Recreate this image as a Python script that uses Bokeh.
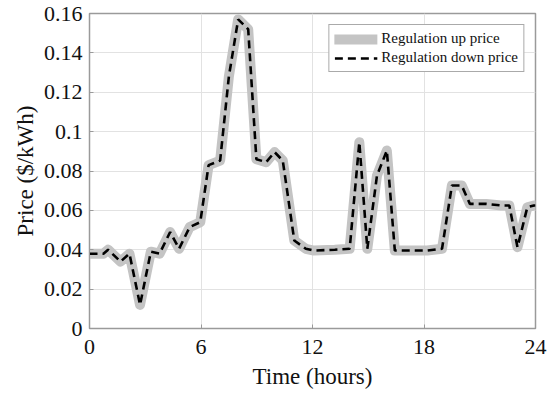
from bokeh.plotting import figure
from bokeh.models import Range1d, FixedTicker, Legend, LegendItem, ColumnDataSource
from bokeh.embed import file_html
from bokeh.resources import INLINE

# ---- data ----
time_h = [0, 0.75, 1.0, 1.67, 2.15, 2.72, 3.3, 3.77, 4.34, 4.82, 5.39, 5.96,
          6.41, 7.03, 7.5, 8.0, 8.54, 8.98, 9.51, 9.96, 10.4, 11.02, 11.64,
          12.08, 13.2, 14.0, 14.52, 14.95, 15.47, 16.0, 16.43, 18.17, 18.97,
          19.5, 20.03, 20.47, 21.35, 22.15, 22.59, 23.03, 23.56, 23.91, 24]
reg_up_price = [0.038, 0.038, 0.040, 0.034, 0.038, 0.012, 0.039, 0.038, 0.049,
                0.0405, 0.0515, 0.054, 0.083, 0.0853, 0.128, 0.157, 0.152,
                0.086, 0.0845, 0.0896, 0.0853, 0.0447, 0.0405, 0.0396, 0.0400,
                0.0405, 0.0946, 0.0405, 0.0777, 0.0904, 0.0396, 0.0396, 0.0405,
                0.0726, 0.0726, 0.0633, 0.0633, 0.0625, 0.0625, 0.0413, 0.0616,
                0.0625, 0.0625]
reg_down_price = list(reg_up_price)

x_ticks = [0, 6, 12, 18, 24]
y_ticks = [0, 0.02, 0.04, 0.06, 0.08, 0.1, 0.12, 0.14, 0.16]
y_tick_labels = ["0", "0.02", "0.04", "0.06", "0.08", "0.1", "0.12", "0.14", "0.16"]

FONT = "Liberation Serif"

p = figure(width=554, height=394, x_range=Range1d(0, 24), y_range=Range1d(0, 0.16),
           output_backend="svg", toolbar_location=None,
           min_border_left=89, min_border_right=19, min_border_top=13,
           min_border_bottom=66)

src = ColumnDataSource(dict(t=time_h, up=reg_up_price, down=reg_down_price))
up_line = p.line("t", "up", source=src, line_color="#c4c4c4", line_width=10,
                 line_join="round", line_cap="round")
down_line = p.line("t", "down", source=src, line_color="black", line_width=2.6,
                   line_dash="8 5")

p.xaxis.ticker = FixedTicker(ticks=x_ticks)
p.yaxis.ticker = FixedTicker(ticks=y_ticks)
p.yaxis.major_label_overrides = dict(zip(y_ticks, y_tick_labels))

for ax in (p.xaxis[0], p.yaxis[0]):
    ax.major_label_text_font = FONT
    ax.major_label_text_font_size = "22px"
    ax.major_label_text_color = "#111111"
    ax.axis_label_text_font = FONT
    ax.axis_label_text_font_size = "23px"
    ax.axis_label_text_font_style = "normal"
    ax.axis_label_text_color = "#111111"
    ax.major_tick_in = 4
    ax.major_tick_out = 0
    ax.minor_tick_in = 0
    ax.minor_tick_out = 0
    ax.axis_line_color = "#9a9a9a"
    ax.major_tick_line_color = "#9a9a9a"

p.xaxis.axis_label = "Time (hours)"
p.yaxis.axis_label = "Price ($/kWh)"
p.xaxis.major_label_standoff = 11
p.xaxis.axis_label_standoff = 7
p.yaxis.major_label_standoff = 7
p.yaxis.axis_label_standoff = 3

p.xgrid.grid_line_color = "#e2e2e2"
p.ygrid.grid_line_color = "#e2e2e2"
p.outline_line_color = "#9a9a9a"
p.outline_line_width = 1.5
p.background_fill_color = "white"
p.border_fill_color = "white"

legend = Legend(items=[
    LegendItem(label="Regulation up price", renderers=[up_line]),
    LegendItem(label="Regulation down price", renderers=[down_line]),
], location="top_right")
legend.label_text_font = FONT
legend.label_text_font_size = "15px"
legend.label_text_color = "#111111"
legend.glyph_width = 43
legend.glyph_height = 14
legend.label_standoff = 4
legend.padding = 5
legend.spacing = 2
legend.margin = 11
legend.border_line_color = "#555555"
legend.border_line_width = 1
legend.background_fill_alpha = 1
p.add_layout(legend)

open("out.html", "w").write(file_html(p, INLINE))
